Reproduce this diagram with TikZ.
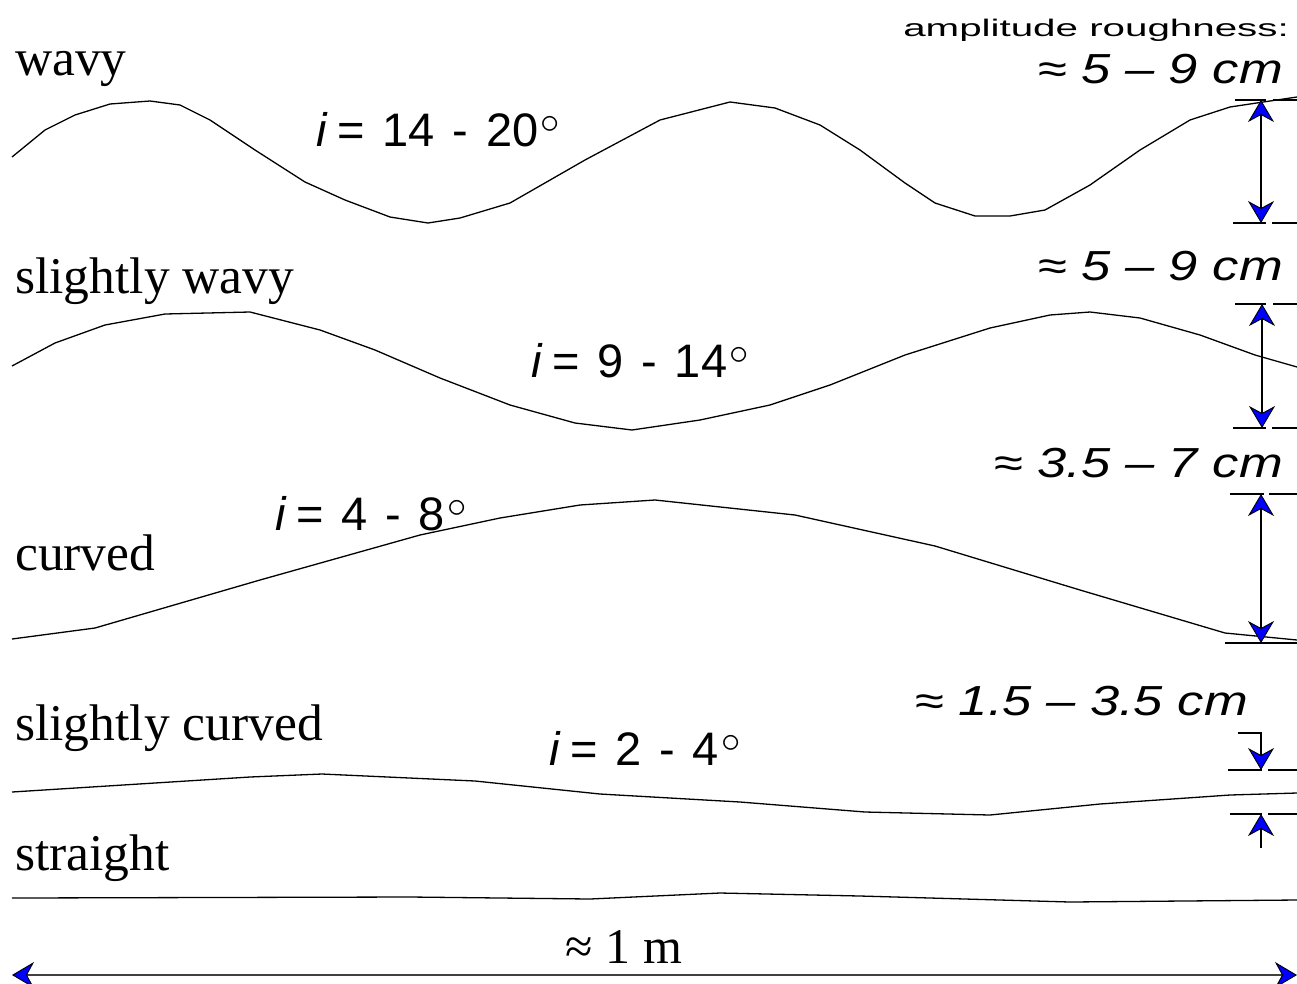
\documentclass[tikz,border=0pt]{standalone}
\usepackage{fontspec}
\setmainfont{Liberation Serif}
\newfontfamily\hel{Liberation Sans}
\usetikzlibrary{arrows.meta}
\newcommand{\degc}{\kern2pt\raisebox{13pt}{\scalebox{1.55}{\fontsize{24.88}{30}\selectfont$\circ$}}}
\newcommand{\gp}{\hspace{0.38em}}
\tikzset{
  tipb/.tip={Stealth[length=22pt,width=26pt,inset=7pt,color=black,fill=blue,line width=0.9pt]},
  prof/.style={line width=1.3pt, line join=round},
  tick/.style={line width=1.3pt},
  dim/.style={line width=1.3pt, tipb-tipb},
  dimone/.style={line width=1.3pt, -tipb},
  serlab/.style={anchor=base west, inner sep=0pt, font=\fontsize{51.5}{60}\selectfont},
  anglab/.style={anchor=base west, inner sep=0pt, font=\hel\fontsize{47}{55}\selectfont},
  amplab/.style={anchor=base east, inner sep=0pt, font=\hel\itshape\fontsize{42}{52}\selectfont},
}
\begin{document}
\begin{tikzpicture}[x=1pt,y=-1pt]
\useasboundingbox (0,0) rectangle (1297,983);
% profiles
\draw[prof] (12,157) -- (45,130) -- (75,115) -- (110,104) -- (150,101) -- (180,105) -- (210,120) -- (255,150) -- (305,182) -- (345,200) -- (390,217) -- (428,223) -- (460,218) -- (510,203) -- (585,160) -- (660,120) -- (730,102) -- (775,108) -- (820,125) -- (860,150) -- (905,183) -- (935,203) -- (975,216) -- (1010,216) -- (1045,210) -- (1090,185) -- (1140,150) -- (1190,120) -- (1230,107) -- (1270,101) -- (1297,97);
\draw[prof] (12,366) -- (55,343) -- (105,325) -- (165,314) -- (250,312) -- (320,330) -- (375,350) -- (440,378) -- (510,405) -- (575,423) -- (632,430) -- (700,420) -- (770,405) -- (830,385) -- (905,355) -- (990,328) -- (1050,315) -- (1090,312) -- (1140,318) -- (1200,335) -- (1255,355) -- (1297,367);
\draw[prof] (12,639) -- (95,628) -- (260,580) -- (420,535) -- (500,518) -- (580,505) -- (655,500) -- (795,515) -- (935,546) -- (1080,590) -- (1225,633) -- (1297,640);
\draw[prof] (12,792) -- (250,777) -- (322,774) -- (475,781) -- (600,794) -- (740,802) -- (865,812) -- (990,815) -- (1100,804) -- (1230,795) -- (1297,793);
\draw[prof] (12,898) -- (410,897) -- (590,899) -- (720,893) -- (860,896) -- (1070,902) -- (1297,900);
% ticks
\draw[tick] (1235,100) -- (1266,100) (1273,100) -- (1297,100);
\draw[tick] (1233,223) -- (1266,223) (1272,223) -- (1297,223);
\draw[tick] (1235,304) -- (1266,304) (1273,304) -- (1297,304);
\draw[tick] (1233,428) -- (1266,428) (1272,428) -- (1297,428);
\draw[tick] (1230,494) -- (1264,494) (1269,494) -- (1297,494);
\draw[tick] (1225,643) -- (1297,643);
\draw[tick] (1228,770) -- (1262,770) (1268,770) -- (1297,770);
\draw[tick] (1230,814) -- (1262,814) (1268,814) -- (1297,814);
% dimension arrows
\coordinate (w1) at (1261,100); \coordinate (w2) at (1261,223);
\coordinate (s1) at (1262,304); \coordinate (s2) at (1262,428);
\coordinate (c1) at (1261,494); \coordinate (c2) at (1261,643);
\coordinate (e0) at (1238,733); \coordinate (e1) at (1261,733); \coordinate (e2) at (1261,770);
\coordinate (f0) at (1261,848); \coordinate (f1) at (1261,814);
\coordinate (L) at (12,975); \coordinate (R) at (1297,975);
\draw[dim] (w1) -- (w2);
\draw[dim] (s1) -- (s2);
\draw[dim] (c1) -- (c2);
\draw[dimone] (e0) -- (e1) -- (e2);
\draw[dimone] (f0) -- (f1);
\draw[dim, draw={rgb,255:red,64;green,64;blue,64}, line width=2pt] (L) -- (R);
% labels
\node[serlab] (lw) at (15,75) {wavy};
\node[serlab] (lsw) at (15,293) {slightly wavy};
\node[serlab] (lc) at (15,570) {curved};
\node[serlab] (lsc) at (15,740) {slightly curved};
\node[serlab] (ls) at (15,870) {straight};
\node[anchor=base, inner sep=0pt, font=\fontsize{50}{60}\selectfont] (lm) at (624,963) {≈ 1 m};
\node[anglab] (a1) at (316,146) {\textit{i}\hspace{0.2em}=\gp14\gp-\gp20\degc};
\node[anglab] (a2) at (531,377) {\textit{i}\hspace{0.2em}=\gp9\gp-\gp14\degc};
\node[anglab] (a3) at (275,530) {\textit{i}\hspace{0.2em}=\gp4\gp-\gp8\degc};
\node[anglab] (a4) at (549,765) {\textit{i}\hspace{0.2em}=\gp2\gp-\gp4\degc};
\node[anchor=base east, inner sep=0pt, font=\hel\fontsize{24}{30}\selectfont] (amp) at (1289,36) {\scalebox{1.68}[1]{amplitude roughness:}};
\node[amplab] (r1) at (1283,83) {\scalebox{1.25}[1]{{\upshape≈} 5 – 9 cm}};
\node[amplab] (r2) at (1283,280) {\scalebox{1.25}[1]{{\upshape≈} 5 – 9 cm}};
\node[amplab] (r3) at (1283,477) {\scalebox{1.25}[1]{{\upshape≈} 3.5 – 7 cm}};
\node[amplab] (r4) at (1248,715) {\scalebox{1.25}[1]{{\upshape≈} 1.5 – 3.5 cm}};
\end{tikzpicture}
\end{document}
